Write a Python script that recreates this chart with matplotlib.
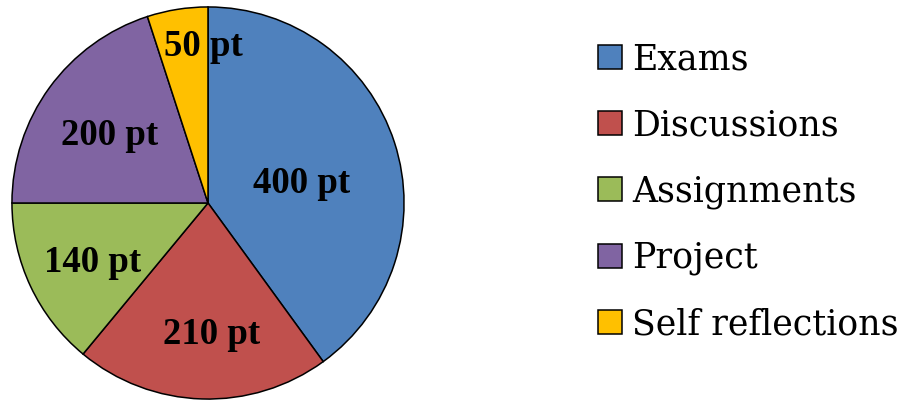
import numpy as np
import matplotlib
matplotlib.use("Agg")
import matplotlib.pyplot as plt
from matplotlib.patches import Patch

categories = ["Exams", "Discussions", "Assignments", "Project", "Self reflections"]
points = [400, 210, 140, 200, 50]
labels = ["400 pt", "210 pt", "140 pt", "200 pt", "50 pt"]
colors = ["#4F81BD", "#C0504D", "#9BBB59", "#8064A2", "#FFC000"]
# label placement: distance from centre and angle shift from the slice middle
label_dist = [0.49, 0.67, 0.66, 0.61, 0.80]
label_shift = [-6, 3.5, 2, 1.8, -7.2]

fig = plt.figure(figsize=(9.05, 4.0), dpi=100)
ax = fig.add_axes([10 / 905, -1 / 400, 396 / 905, 396 / 400])

wedges, _ = ax.pie(points, colors=colors, startangle=90, counterclock=False,
                   radius=1, wedgeprops=dict(edgecolor="black", linewidth=1.1))
ax.set_xlim(-1.01, 1.01)
ax.set_ylim(-1.01, 1.01)
ax.set_aspect("equal")
ax.axis("off")

for w, lab, d, s in zip(wedges, labels, label_dist, label_shift):
    mid = np.deg2rad((w.theta1 + w.theta2) / 2 + s)
    ax.text(d * np.cos(mid), d * np.sin(mid), lab, ha="center", va="center",
            fontsize=26.5, fontweight="bold", family="Liberation Serif")

handles = [Patch(facecolor=c, edgecolor="black", linewidth=1.1) for c in colors]
fig.legend(handles, categories, loc="center left", bbox_to_anchor=(598 / 905, 0.52),
           frameon=False, prop={"family": "DejaVu Serif", "size": 25},
           handlelength=0.69, handleheight=0.69, handletextpad=0.3,
           labelspacing=0.92, borderpad=0, borderaxespad=0)

fig.savefig("out.png", dpi=100)
